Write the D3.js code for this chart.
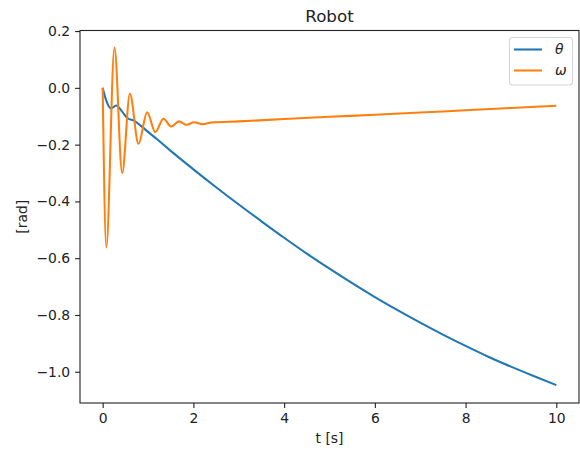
<!doctype html>
<html>
<head>
    <style>
        body { margin: 0; background: white; }
        svg { display: block; font-family: "DejaVu Sans", sans-serif; }
        .tick text { font-size: 13.9px; fill: #222; }
        .tick line { stroke: #222; stroke-width: 1.1; }
    </style>
    <script src="https://d3js.org/d3.v7.min.js"></script>
</head>
<body>
    <svg width="580" height="450"></svg>
    <script>
        // theta (blue)
        var tTheta = [0, 0.08, 0.18, 0.3, 0.42, 0.55, 0.7, 0.85, 1.0, 1.2, 1.5, 2.0,
                      2.5, 3.0, 3.5, 4.0, 4.5, 5.0, 5.5, 6.0, 6.5, 7.0, 7.5, 8.0, 8.5, 9.0, 9.5, 10.0];
        var theta = [0, -0.045, -0.073, -0.062, -0.082, -0.107, -0.116, -0.135, -0.155, -0.181, -0.222, -0.287,
                     -0.350, -0.411, -0.470, -0.528, -0.584, -0.637, -0.688, -0.737, -0.783, -0.827, -0.869, -0.909, -0.947, -0.982, -1.015, -1.047];

        // omega (orange)
        var tOmega = [0, 0.08, 0.26, 0.43, 0.60, 0.79, 0.98, 1.16, 1.34, 1.51, 1.68, 1.85, 2.02, 2.2, 2.4,
                      3, 4, 5, 6, 7, 8, 9, 10];
        var omega = [0, -0.562, 0.142, -0.300, -0.021, -0.197, -0.086, -0.156, -0.109, -0.136, -0.118, -0.130, -0.121, -0.128, -0.122,
                     -0.118, -0.110, -0.102, -0.095, -0.087, -0.079, -0.071, -0.063];

        var xTicks = [0, 2, 4, 6, 8, 10];
        var yTicks = [0.2, 0.0, -0.2, -0.4, -0.6, -0.8, -1.0];

        var svg = d3.select("svg");
        var axL = 80, axR = 579, axT = 30.5, axB = 403;

        var x = d3.scaleLinear().domain([-0.5, 10.5]).range([axL, axR]);
        var y = d3.scaleLinear().domain([-1.110, 0.202]).range([axB, axT]);

        // lines
        var line = d3.line()
            .x(function (d) { return x(d[0]); })
            .y(function (d) { return y(d[1]); })
            .curve(d3.curveMonotoneX);

        svg.append("path")
            .datum(d3.zip(tTheta, theta))
            .attr("d", line)
            .attr("fill", "none")
            .attr("stroke", "#1f77b4")
            .attr("stroke-width", 2.08);

        svg.append("path")
            .datum(d3.zip(tOmega, omega))
            .attr("d", line)
            .attr("fill", "none")
            .attr("stroke", "#ff7f0e")
            .attr("stroke-width", 2.08);

        // axes
        var xAxis = svg.append("g")
            .attr("transform", "translate(0," + axB + ")")
            .call(d3.axisBottom(x).tickValues(xTicks).tickFormat(d3.format("d"))
                .tickSizeInner(4.9).tickSizeOuter(0).tickPadding(4.9));
        xAxis.select(".domain").remove();
        xAxis.selectAll("text").attr("dy", "0.76em");

        var yAxis = svg.append("g")
            .attr("transform", "translate(" + axL + ",0)")
            .call(d3.axisLeft(y).tickValues(yTicks).tickFormat(d3.format(".1f"))
                .tickSizeInner(4.9).tickSizeOuter(0).tickPadding(4.9));
        yAxis.select(".domain").remove();

        svg.selectAll(".tick text").attr("font-family", "DejaVu Sans").attr("font-size", 13.9);

        // frame
        svg.append("rect")
            .attr("x", axL).attr("y", axT)
            .attr("width", axR - axL).attr("height", axB - axT)
            .attr("fill", "none")
            .attr("stroke", "#222")
            .attr("stroke-width", 1.1);

        // title and labels
        svg.append("text")
            .attr("x", (axL + axR) / 2).attr("y", 22)
            .attr("text-anchor", "middle")
            .attr("font-size", 16.7)
            .attr("fill", "#222")
            .text("Robot");

        svg.append("text")
            .attr("x", (axL + axR) / 2).attr("y", 443)
            .attr("text-anchor", "middle")
            .attr("font-size", 13.9)
            .attr("fill", "#222")
            .text("t [s]");

        svg.append("text")
            .attr("transform", "translate(27," + (axT + axB) / 2 + ") rotate(-90)")
            .attr("text-anchor", "middle")
            .attr("font-size", 13.9)
            .attr("fill", "#222")
            .text("[rad]");

        // legend
        var legend = svg.append("g");
        legend.append("rect")
            .attr("x", 509.5).attr("y", 37.5)
            .attr("width", 63).attr("height", 47.5)
            .attr("rx", 3)
            .attr("fill", "white")
            .attr("stroke", "#d6d6d6")
            .attr("stroke-width", 1.1);

        var items = [["θ", "#1f77b4", 49.5], ["ω", "#ff7f0e", 70.5]];
        items.forEach(function (it) {
            legend.append("line")
                .attr("x1", 514).attr("x2", 542)
                .attr("y1", it[2]).attr("y2", it[2])
                .attr("stroke", it[1])
                .attr("stroke-width", 2.08);
            legend.append("text")
                .attr("x", 555).attr("y", it[2] + 4.8)
                .attr("font-size", 13.9)
                .attr("font-style", "italic")
                .attr("fill", "#222")
                .text(it[0]);
        });
    </script>
</body>
</html>
